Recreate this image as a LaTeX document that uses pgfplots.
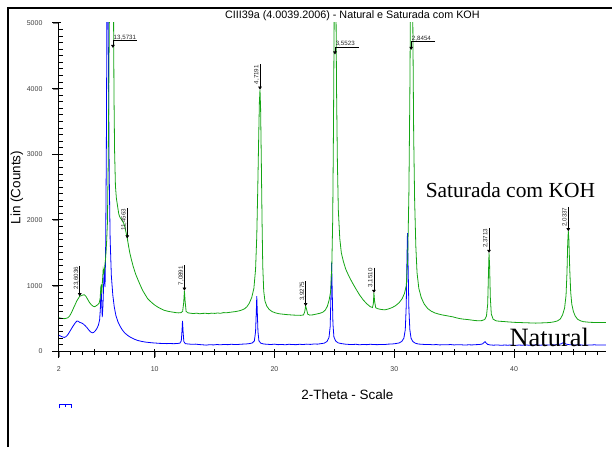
\documentclass[border=0pt]{standalone}
\usepackage{fontspec}
\setmainfont{Liberation Sans}
\newfontfamily\timesfont{Liberation Serif}
\usepackage{pgfplots}
\pgfplotsset{compat=1.18}
\usetikzlibrary{arrows.meta}

\definecolor{satgreen}{RGB}{20,165,20}
\definecolor{natblue}{RGB}{0,0,255}

% common frame of the diffractogram
\pgfplotsset{xrdframe/.style={
  at={(59pt,96pt)}, anchor=south west, scale only axis,
  width=548pt, height=329pt,
  xmin=2, xmax=47.67, ymin=0, ymax=5000}}

% peak markers: vertical label with arrow down to the peak
\newcommand{\vpk}[4]{%
  \draw[pk] (axis cs:#1,#3) -- (axis cs:#1,#2);
  \node[pklabel, rotate=90, anchor=south east] at (axis cs:#1,#3) {#4};}
% peak markers for peaks running off the top: horizontal label
\newcommand{\hpk}[4]{%
  \draw[pk] ([xshift=24pt]axis cs:#1,#3) -- (axis cs:#1,#3) -- (axis cs:#1,#2);
  \node[pklabel, anchor=south west] at (axis cs:#1,#3) {#4};}

\begin{document}
\begin{tikzpicture}[
  pk/.style={black, line width=0.6pt, -{Triangle[length=3pt,width=3.6pt]}},
  scaletick/.style={draw=black, line width=1pt},
  pklabel/.style={font=\fontsize{6.2}{7}\selectfont, text=black!85, inner sep=0.6pt}]
\path (0,0) rectangle (613pt,448pt);
\draw[line width=2.2pt] (8pt,0pt) -- (8pt,440pt) -- (613pt,440pt);

\begin{axis}[
  xrdframe,
  axis x line*=bottom, axis y line*=left,
  axis line style={black, line width=0.8pt},
  tick align=outside,
  xtick={2,10,20,30,40}, xticklabels={2,10,20,30,40},
  ytick={0,1000,...,5000}, yticklabels={0,1000,2000,3000,4000,5000},
  major tick length=6pt,
  /pgf/number format/assume math mode=true,
  ticklabel style={font=\fontsize{7}{8}\selectfont, text=black!75},
  xticklabel style={yshift=-6pt},
  yticklabel style={xshift=-7pt},
]
% Natural
\addplot[natblue, line width=0.8pt] coordinates {
(2.0,245)(2.15,232)(2.3,220)(2.45,212)(2.6,225)(2.75,255)(2.9,300)(3.05,345)(3.2,390)(3.35,430)(3.5,462)(3.62,458)(3.75,440)(3.9,432)(4.05,415)(4.2,390)(4.35,360)(4.5,325)(4.65,295)(4.8,282)(4.92,290)(5.05,315)(5.18,350)(5.3,400)(5.4,480)(5.46,640)(5.52,990)(5.57,760)(5.62,520)(5.68,700)(5.75,1100)(5.8,1250)(5.85,980)(5.9,1500)(5.96,3000)(6.02,5600)(6.07,6500)(6.13,4600)(6.2,2700)(6.28,1700)(6.38,1150)(6.5,860)(6.62,680)(6.76,545)(6.92,455)(7.1,385)(7.3,325)(7.5,280)(7.75,242)(8.0,212)(8.3,185)(8.6,165)(8.9,152)(9.2,142)(9.5,136)(9.8,130)(10.1,126)(10.4,122)(10.7,120)(11.0,118)(11.3,119)(11.6,117)(11.9,120)(12.1,125)(12.22,160)(12.28,320)(12.32,465)(12.37,300)(12.43,150)(12.55,118)(12.8,112)(13.1,108)(13.4,110)(13.7,104)(14.0,100)(14.3,95)(14.6,102)(14.9,98)(15.2,104)(15.5,100)(15.8,106)(16.1,102)(16.4,108)(16.7,104)(17.0,106)(17.3,110)(17.6,112)(17.9,118)(18.15,128)(18.32,160)(18.42,300)(18.48,600)(18.52,840)(18.56,620)(18.62,300)(18.7,160)(18.85,125)(19.1,112)(19.4,108)(19.7,104)(20.0,110)(20.3,102)(20.6,106)(20.9,100)(21.2,108)(21.5,104)(21.8,102)(22.1,108)(22.4,104)(22.7,110)(23.0,106)(23.3,112)(23.6,110)(23.9,118)(24.15,125)(24.38,150)(24.55,210)(24.65,380)(24.72,900)(24.77,1350)(24.82,900)(24.88,420)(24.96,220)(25.1,160)(25.3,130)(25.6,118)(25.9,110)(26.2,106)(26.5,104)(26.8,108)(27.1,100)(27.4,106)(27.7,102)(28.0,108)(28.3,104)(28.6,102)(28.9,106)(29.2,104)(29.5,110)(29.8,112)(30.1,118)(30.4,128)(30.62,150)(30.8,200)(30.92,330)(31.0,700)(31.06,1400)(31.1,1800)(31.15,1350)(31.22,650)(31.3,330)(31.4,200)(31.55,150)(31.75,125)(32.0,112)(32.3,108)(32.6,104)(32.9,106)(33.2,100)(33.5,104)(33.8,98)(34.1,102)(34.4,100)(34.7,104)(35.0,98)(35.3,102)(35.6,100)(35.9,96)(36.2,100)(36.5,98)(36.8,102)(37.1,104)(37.35,112)(37.5,135)(37.58,148)(37.66,128)(37.8,106)(38.0,98)(38.3,94)(38.6,98)(38.9,92)(39.2,96)(39.5,94)(39.8,98)(40.1,92)(40.4,96)(40.7,94)(41.0,98)(41.3,92)(41.6,96)(41.9,100)(42.2,94)(42.5,98)(42.8,96)(43.1,100)(43.4,98)(43.7,104)(43.95,115)(44.1,132)(44.2,126)(44.35,110)(44.6,102)(44.9,98)(45.2,96)(45.5,100)(45.8,94)(46.1,98)(46.4,96)(46.7,100)(47.0,96)(47.3,98)(47.67,96)
};
% Saturada com KOH
\addplot[satgreen, line width=0.8pt] coordinates {
(2.0,512)(2.15,505)(2.3,500)(2.45,498)(2.6,503)(2.75,512)(2.9,540)(3.05,590)(3.2,650)(3.35,710)(3.5,770)(3.62,805)(3.74,840)(3.88,848)(4.0,858)(4.12,862)(4.25,840)(4.38,800)(4.5,760)(4.62,728)(4.75,702)(4.88,685)(5.0,680)(5.12,695)(5.25,712)(5.36,735)(5.44,800)(5.5,960)(5.54,1020)(5.58,880)(5.63,1050)(5.7,1250)(5.76,1200)(5.82,1280)(5.9,1420)(5.98,1650)(6.05,1950)(6.12,2900)(6.18,4300)(6.25,5800)(6.35,7000)(6.45,7400)(6.55,5600)(6.6,3900)(6.65,3050)(6.72,2520)(6.8,2330)(6.9,2210)(7.0,2090)(7.1,2040)(7.2,2015)(7.3,1985)(7.4,1955)(7.5,1900)(7.6,1815)(7.71,1720)(7.82,1600)(7.92,1500)(8.05,1400)(8.2,1295)(8.4,1180)(8.6,1090)(8.8,1005)(9.0,925)(9.2,865)(9.4,805)(9.6,768)(9.8,735)(10.0,705)(10.25,675)(10.5,650)(10.75,628)(11.0,615)(11.25,605)(11.5,598)(11.75,590)(12.0,586)(12.2,590)(12.33,610)(12.42,740)(12.48,925)(12.54,760)(12.62,610)(12.75,588)(13.0,580)(13.25,576)(13.5,582)(13.75,572)(14.0,578)(14.25,580)(14.5,574)(14.75,582)(15.0,578)(15.25,584)(15.5,580)(15.75,590)(16.0,588)(16.25,594)(16.5,600)(16.75,606)(17.0,615)(17.25,628)(17.5,648)(17.7,680)(17.9,735)(18.1,820)(18.28,960)(18.42,1250)(18.52,1750)(18.6,2450)(18.68,3250)(18.74,3800)(18.79,3985)(18.84,3700)(18.9,2900)(18.96,2000)(19.02,1300)(19.1,920)(19.2,770)(19.35,690)(19.55,640)(19.8,605)(20.1,585)(20.4,572)(20.7,566)(21.0,560)(21.3,556)(21.6,552)(21.9,550)(22.2,548)(22.42,555)(22.52,600)(22.6,690)(22.68,640)(22.78,565)(22.95,552)(23.2,556)(23.5,568)(23.8,580)(24.05,598)(24.25,630)(24.42,690)(24.56,780)(24.68,900)(24.78,1250)(24.86,2000)(24.92,3300)(24.98,5000)(25.05,6800)(25.12,5600)(25.18,4000)(25.25,2900)(25.33,2150)(25.45,1720)(25.58,1500)(25.75,1370)(25.95,1250)(26.2,1150)(26.5,1045)(26.8,950)(27.1,860)(27.4,785)(27.7,725)(28.0,680)(28.18,668)(28.25,720)(28.3,890)(28.36,760)(28.45,665)(28.6,650)(28.9,638)(29.2,632)(29.5,645)(29.8,665)(30.1,695)(30.4,740)(30.65,800)(30.85,880)(31.0,1000)(31.12,1400)(31.22,2400)(31.3,3900)(31.38,6000)(31.46,7000)(31.54,5200)(31.62,3300)(31.7,2300)(31.8,1600)(31.9,1200)(32.05,960)(32.25,820)(32.5,720)(32.8,650)(33.1,610)(33.4,585)(33.7,568)(34.0,555)(34.3,545)(34.6,535)(34.9,525)(35.2,510)(35.5,498)(35.8,490)(36.1,485)(36.4,478)(36.7,470)(37.0,466)(37.3,468)(37.55,485)(37.7,540)(37.8,720)(37.86,1150)(37.91,1500)(37.96,1300)(38.02,820)(38.1,570)(38.25,490)(38.5,465)(38.8,458)(39.1,455)(39.4,450)(39.7,446)(40.0,442)(40.3,440)(40.6,438)(40.9,436)(41.2,434)(41.5,432)(41.8,430)(42.1,432)(42.4,434)(42.7,436)(43.0,440)(43.3,448)(43.6,462)(43.85,490)(44.05,555)(44.22,660)(44.34,850)(44.42,1200)(44.48,1650)(44.53,1830)(44.58,1700)(44.65,1250)(44.73,900)(44.82,720)(44.95,610)(45.1,540)(45.3,490)(45.55,465)(45.8,452)(46.1,446)(46.4,442)(46.7,440)(47.0,438)(47.3,440)(47.67,438)
};
\end{axis}

% d-spacings of the marked peaks
\begin{axis}[xrdframe, hide axis, clip=false]
\vpk{3.74}{840}{1300}{23,6036}
\hpk{6.51}{4620}{4731}{13,5731}
\vpk{7.71}{1720}{2180}{11,4563}
\vpk{12.48}{925}{1310}{7,0891}
\vpk{18.79}{3985}{4370}{4,7191}
\vpk{22.60}{690}{1070}{3,9275}
\vpk{28.30}{890}{1275}{3,1510}
\hpk{25.05}{4520}{4630}{3,5523}
\hpk{31.41}{4590}{4716}{2,8454}
\vpk{37.91}{1500}{1880}{2,3713}
\vpk{44.53}{1830}{2200}{2,0337}
\end{axis}

% scale marks along both axes (12pt per degree, 329pt per 5000 counts)
\begin{scope}[x=1pt, y=1pt]
\foreach \d in {3,...,47}
  \draw[scaletick] ({59+12*(\d-2)},96) -- ({59+12*(\d-2)},92);
\foreach \d in {2,10,20,30,40}
  \draw[scaletick] ({59+12*(\d-2)},98) -- ({59+12*(\d-2)},89);
\foreach \d in {5,15,25,35,45}
  \draw[scaletick] ({59+12*(\d-2)},98) -- ({59+12*(\d-2)},92);
\foreach \c in {0,...,5}
  \draw[scaletick] (61,{96+65.8*\c}) -- (52,{96+65.8*\c});
\foreach \c in {1,...,49}
  \draw[scaletick] (59,{96+6.58*\c}) -- (63.5,{96+6.58*\c});
\end{scope}

\node[font=\fontsize{10.8}{12}\selectfont] at (353pt,432pt)
  {CIII39a (4.0039.2006) - Natural e Saturada com KOH};
\node[font=\fontsize{13.5}{15}\selectfont] at (348pt,53pt) {2-Theta - Scale};
\node[font=\fontsize{13.5}{15}\selectfont, rotate=90] at (17pt,260pt) {Lin (Counts)};
\node[font=\timesfont\fontsize{21.5}{24}\selectfont, anchor=base west] at (423pt,250pt) {Saturada com KOH};
\node[font=\timesfont\fontsize{26.5}{28}\selectfont, anchor=base west] at (507pt,101pt) {Natural};
\draw[natblue, line width=1pt] (60pt,39pt) -- (60pt,43pt) -- (72pt,43pt) -- (72pt,39pt)
  (66pt,43pt) -- (66pt,40pt);
\end{tikzpicture}
\end{document}
